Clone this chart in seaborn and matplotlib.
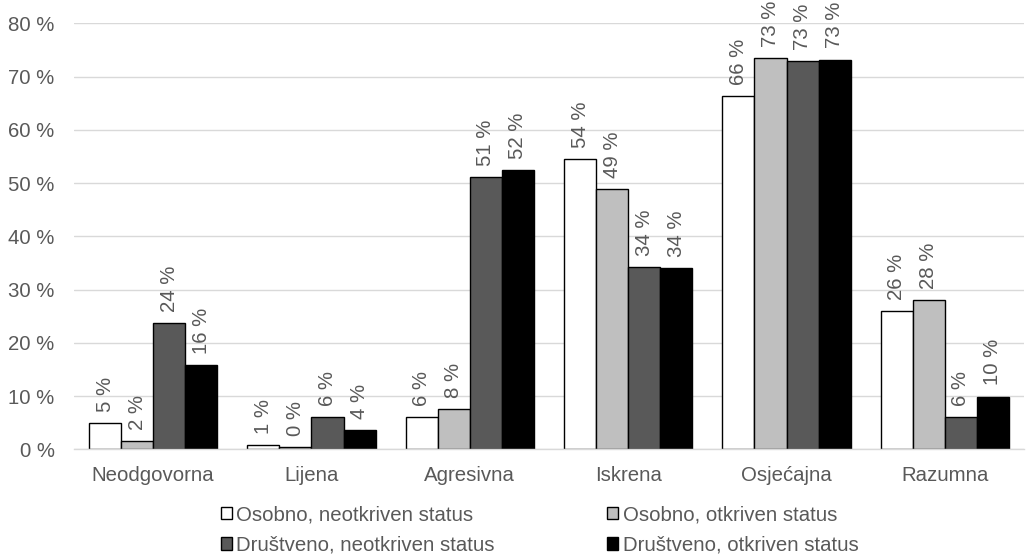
import matplotlib

matplotlib.use("Agg")
import matplotlib.pyplot as plt
import pandas as pd
import seaborn as sns

categories = ["Neodgovorna", "Lijena", "Agresivna", "Iskrena", "Osjećajna", "Razumna"]
series_names = [
    "Osobno, neotkriven status",
    "Osobno, otkriven status",
    "Društveno, neotkriven status",
    "Društveno, otkriven status",
]
osobno_neotkriven = [4.9, 0.8, 6.1, 54.5, 66.3, 26.0]
osobno_otkriven = [1.6, 0.5, 7.6, 48.8, 73.4, 28.0]
drustveno_neotkriven = [23.7, 6.1, 51.1, 34.2, 72.9, 6.1]
drustveno_otkriven = [15.8, 3.6, 52.5, 34.1, 73.2, 9.9]
y_ticks = [0, 10, 20, 30, 40, 50, 60, 70, 80]

colors = ["#ffffff", "#bfbfbf", "#595959", "#000000"]
text_color = "#595959"
font_size = 14.7

rows = []
for name, values in zip(
    series_names,
    [osobno_neotkriven, osobno_otkriven, drustveno_neotkriven, drustveno_otkriven],
):
    for cat, v in zip(categories, values):
        rows.append({"kategorija": cat, "serija": name, "postotak": v})
df = pd.DataFrame(rows)

sns.set_theme(style="white")
plt.rcParams["font.family"] = ["Liberation Sans", "DejaVu Sans"]

fig = plt.figure(figsize=(10.26, 5.56), dpi=100)
ax = fig.add_axes([0.0721, 0.1919, 0.926, 0.7662])

sns.barplot(
    data=df,
    x="kategorija",
    y="postotak",
    hue="serija",
    order=categories,
    hue_order=series_names,
    palette=colors,
    width=0.81,
    edgecolor="black",
    linewidth=1.0,
    saturation=1,
    errorbar=None,
    legend=True,
    ax=ax,
)

for container in ax.containers:
    ax.bar_label(
        container,
        labels=[f"{round(b.get_height()):d} %" for b in container],
        rotation=90,
        padding=8,
        fontsize=font_size,
        color=text_color,
    )

ax.set_ylim(0, 80)
ax.set_yticks(y_ticks)
ax.set_yticklabels([f"{t} %" for t in y_ticks])
ax.set_xlim(-0.5, len(categories) - 0.5)
ax.set_xlabel("")
ax.set_ylabel("")
ax.yaxis.grid(True, color="#d9d9d9", linewidth=1)
ax.set_axisbelow(True)
for side in ["top", "right", "left"]:
    ax.spines[side].set_visible(False)
ax.spines["bottom"].set_color("#d9d9d9")
ax.spines["bottom"].set_linewidth(1)
ax.tick_params(axis="both", length=0, labelsize=font_size, colors=text_color)
ax.tick_params(axis="x", pad=12)
ax.tick_params(axis="y", pad=14)

# legenda ide redom po recima, matplotlib puni po stupcima
handles, labels = ax.get_legend_handles_labels()
ax.get_legend().remove()
order = [0, 2, 1, 3]
fig.legend(
    [handles[i] for i in order],
    [labels[i] for i in order],
    loc="center",
    bbox_to_anchor=(0.526, 0.0468),
    ncol=2,
    frameon=False,
    fontsize=font_size,
    labelcolor=text_color,
    handlelength=0.55,
    handleheight=0.55,
    handletextpad=0.2,
    columnspacing=5.5,
    labelspacing=0.55,
    borderaxespad=0,
    borderpad=0,
)

fig.savefig("out.png", dpi=100)
